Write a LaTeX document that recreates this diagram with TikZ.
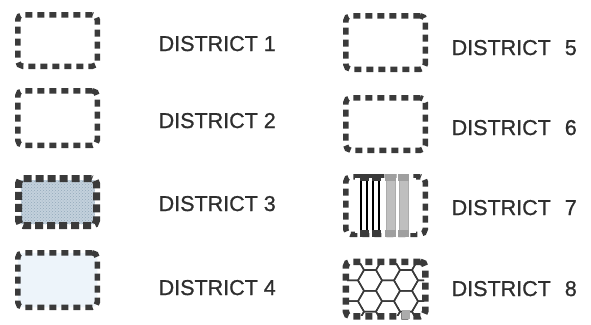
\documentclass[tikz,border=0pt]{standalone}
\usepackage{fontspec}
\setmainfont{Liberation Sans}
\newfontfamily\lblfont{Liberation Sans}[FakeBold=0.9]
\usetikzlibrary{patterns}
\definecolor{bord}{HTML}{3A3A3A}
\definecolor{txt}{HTML}{2E2E2E}
\definecolor{bthree}{HTML}{C3D1DC}
\definecolor{bthreedot}{HTML}{93A8BA}
\definecolor{bfour}{HTML}{EDF4FA}
\begin{document}
\begin{tikzpicture}[x=1pt,y=-1pt,
  dbox/.style={draw=bord, line width=5.5pt, dash pattern=on 7pt off 5pt,
    rounded corners=5pt, inner sep=0pt, minimum width=79.5pt},
  lbl/.style={anchor=base west, font=\lblfont\fontsize{21.5}{21.5}\selectfont, text=txt, inner sep=0pt},
  hexline/.style={draw=bord, line width=1.5pt},
  stripe/.style={draw=black, line width=1.2pt},
  gstripe/.style={fill=gray!50, draw=gray!65, line width=0.8pt}]
\useasboundingbox (0,0) rectangle (591,324);

% left column
\node[dbox, minimum height=51.5pt] (b1) at (57.5,40.5) {};
\node[dbox, minimum height=54.5pt] (b2) at (57.5,118) {};
\node[minimum width=74pt, minimum height=44pt, inner sep=0pt, fill=bthree] (b3fill) at (57.5,202) {};
\node[minimum width=74pt, minimum height=44pt, inner sep=0pt,
      pattern=crosshatch dots, pattern color=bthreedot] (b3pat) at (57.5,202) {};
\node[dbox, line width=7pt, dash pattern=on 8pt off 4pt, minimum width=78pt, minimum height=47pt] (b3) at (57.5,202) {};
\node[dbox, fill=bfour, minimum height=54.5pt] (b4) at (57.5,280) {};

\node[lbl] (t1) at (158.5,51) {DISTRICT 1};
\node[lbl] (t2) at (158.5,128) {DISTRICT 2};
\node[lbl] (t3) at (158.5,211) {DISTRICT 3};
\node[lbl] (t4) at (158.5,295) {DISTRICT 4};

% right column
\node[dbox, minimum height=53.5pt] (b5) at (385.5,42.5) {};
\node[dbox, minimum height=52.5pt] (b6) at (385.5,124) {};

% district 7 stripes
\node[dbox, minimum height=57.5pt] (b7) at (385.5,205.5) {};
\fill[white] (355,178) rectangle (416,233);
\draw[stripe] (361,177) rectangle (367,234);
\draw[stripe] (373,177) rectangle (379,234);
\fill[bord] (359.5,174) rectangle (368.5,181);
\fill[bord] (359.5,230) rectangle (368.5,237);
\fill[bord] (371.5,174) rectangle (380.5,181);
\fill[bord] (371.5,230) rectangle (380.5,237);
\draw[gstripe] (386,177) rectangle (395,234);
\draw[gstripe] (399,177) rectangle (408,234);
\fill[gray!75] (385,174) rectangle (396,181);
\fill[gray!75] (385,230) rectangle (396,237);
\fill[gray!75] (398,174) rectangle (409,181);
\fill[gray!75] (398,230) rectangle (409,237);

% district 8 hex grid
\begin{scope}
  \clip (347,263) rectangle (424,315);
  \foreach \i in {0,...,5}{
    \foreach \j in {-1,...,3}{
      \pgfmathsetmacro{\cx}{352+18*\i}
      \pgfmathsetmacro{\cy}{270+20.8*\j+10.4*mod(\i,2)}
      \draw[hexline, shift={(\cx,\cy)}] (0:12) -- (60:12) -- (120:12) -- (180:12) -- (240:12) -- (300:12) -- cycle;
    }
  }
\end{scope}
\node[dbox, line width=6.5pt, minimum height=54.5pt] (b8) at (385.5,289) {};
\fill[gray!65] (402,310) rectangle (410,319);

\node[lbl] (t5) at (451.5,55) {DISTRICT\hspace{14pt}5};
\node[lbl] (t6) at (451.5,135) {DISTRICT\hspace{14pt}6};
\node[lbl] (t7) at (451.5,215) {DISTRICT\hspace{14pt}7};
\node[lbl] (t8) at (451.5,296) {DISTRICT\hspace{14pt}8};
\end{tikzpicture}
\end{document}
